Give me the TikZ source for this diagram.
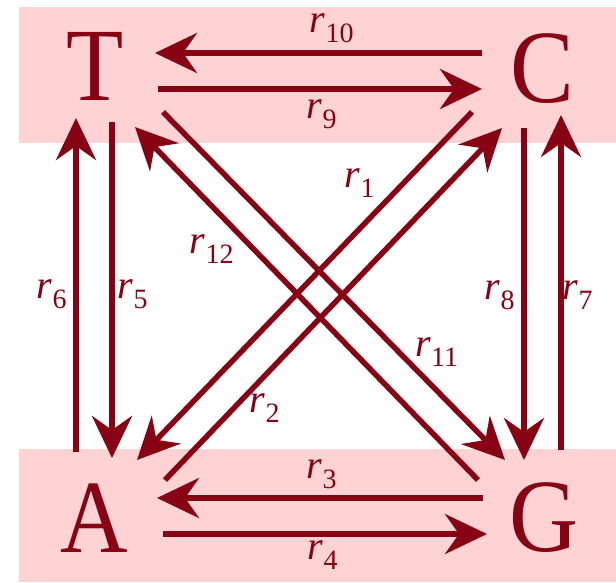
\documentclass[tikz,border=0pt]{standalone}
\usepackage{fontspec}
\setmainfont{Liberation Serif}
\usetikzlibrary{arrows.meta}
\definecolor{dred}{RGB}{135,2,18}
\definecolor{bandpink}{RGB}{255,210,212}
\begin{document}
\begin{tikzpicture}[x=1pt,y=-1pt,
  arr/.style={draw=dred, line width=5.5pt, -{Stealth[length=42pt,width=40pt,inset=14pt]}},
  letter/.style={text=dred, font=\fontsize{104}{104}\selectfont, inner sep=0pt, anchor=base},
  lab/.style={text=dred, font=\fontsize{40}{40}\selectfont, inner sep=0pt}]
\useasboundingbox (0,0) rectangle (616,582);
\fill[white] (0,0) rectangle (616,582);
\fill[bandpink] (19,7) rectangle (616,143);
\fill[bandpink] (19,449) rectangle (616,582);
% letters
\node[letter] (T) at (95,100) {\scalebox{0.9}[1]{T}};
\node[letter] (C) at (542,102) {\scalebox{0.92}[1]{C}};
\node[letter] (A) at (94,552) {\scalebox{0.9}[1]{A}};
\node[letter] (G) at (544,551) {\scalebox{0.92}[1]{G}};
% arrow end points
\coordinate (r10s) at (482,53);  \coordinate (r10e) at (155,53);
\coordinate (r9s)  at (158,89);  \coordinate (r9e)  at (482,89);
\coordinate (r3s)  at (483,498); \coordinate (r3e)  at (157,498);
\coordinate (r4s)  at (163,534); \coordinate (r4e)  at (487,534);
\coordinate (r6s)  at (76,452);  \coordinate (r6e)  at (76,118);
\coordinate (r5s)  at (112,122); \coordinate (r5e)  at (112,458);
\coordinate (r8s)  at (524,128); \coordinate (r8e)  at (524,460);
\coordinate (r7s)  at (561,450); \coordinate (r7e)  at (561,115);
\coordinate (r11s) at (163,112); \coordinate (r11e) at (505,460);
\coordinate (r12s) at (478,480); \coordinate (r12e) at (135,127);
\coordinate (r2s)  at (472,112); \coordinate (r2e)  at (137,460);
\coordinate (r1s)  at (165,480); \coordinate (r1e)  at (502,128);
% arrows
\draw[arr] (r10s) -- (r10e);
\draw[arr] (r9s) -- (r9e);
\draw[arr] (r3s) -- (r3e);
\draw[arr] (r4s) -- (r4e);
\draw[arr] (r6s) -- (r6e);
\draw[arr] (r5s) -- (r5e);
\draw[arr] (r8s) -- (r8e);
\draw[arr] (r7s) -- (r7e);
\draw[arr] (r11s) -- (r11e);
\draw[arr] (r12s) -- (r12e);
\draw[arr] (r2s) -- (r2e);
\draw[arr] (r1s) -- (r1e);
% labels
\node[lab] (l10) at (332,28)  {\textit{r}\textsubscript{10}};
\node[lab] (l9)  at (322,114) {\textit{r}\textsubscript{9}};
\node[lab] (l3)  at (322,474) {\textit{r}\textsubscript{3}};
\node[lab] (l4)  at (323,555) {\textit{r}\textsubscript{4}};
\node[lab] (l6)  at (52,294)  {\textit{r}\textsubscript{6}};
\node[lab] (l5)  at (133,294) {\textit{r}\textsubscript{5}};
\node[lab] (l8)  at (500,295) {\textit{r}\textsubscript{8}};
\node[lab] (l7)  at (578,295) {\textit{r}\textsubscript{7}};
\node[lab] (l1)  at (360,183) {\textit{r}\textsubscript{1}};
\node[lab] (l12) at (212,249) {\textit{r}\textsubscript{12}};
\node[lab] (l11) at (437,352) {\textit{r}\textsubscript{11}};
\node[lab] (l2)  at (265,408) {\textit{r}\textsubscript{2}};
\end{tikzpicture}
\end{document}
